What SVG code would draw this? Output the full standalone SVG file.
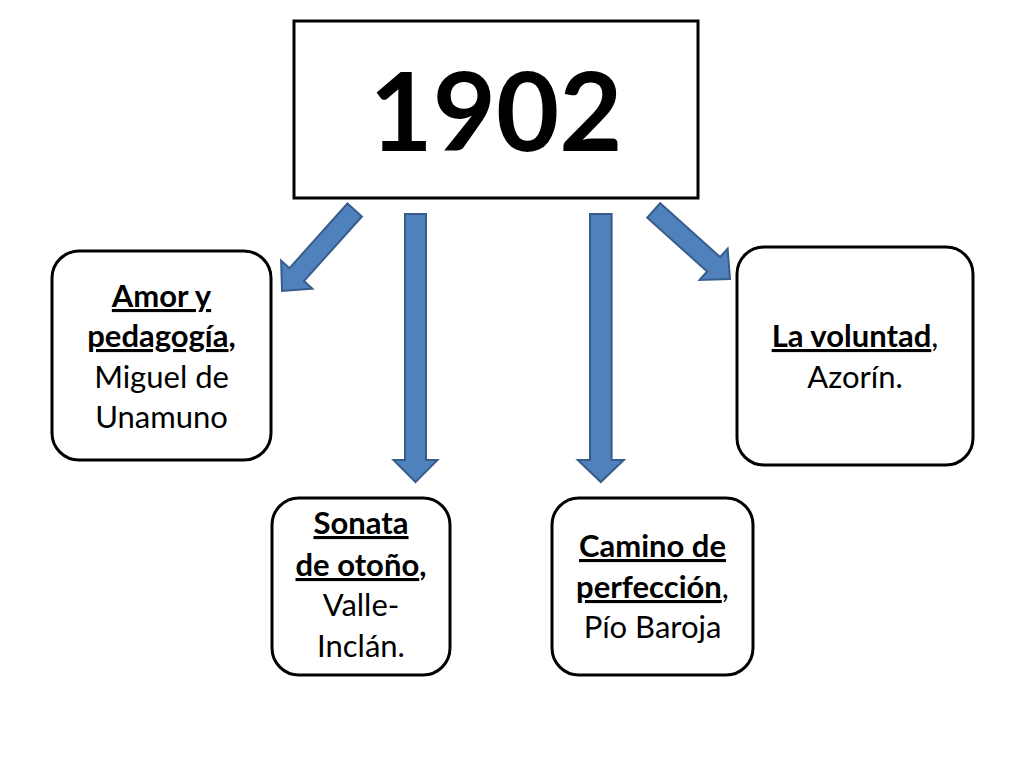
<svg xmlns="http://www.w3.org/2000/svg" width="1024" height="768" viewBox="0 0 1024 768">
<style>
.box{fill:#fff;stroke:#000;stroke-width:3}
.arr{fill:#4F81BD;stroke:#385D8A;stroke-width:2;stroke-linejoin:miter}
.t{font-family:Lato,"Liberation Sans",sans-serif;font-size:31px;fill:#000;text-anchor:middle}
.b{font-weight:bold}
.u{text-decoration:underline}
.big{font-family:Lato,"Liberation Sans",sans-serif;font-size:109px;font-weight:bold;fill:#000;text-anchor:middle}
</style>
<rect width="1024" height="768" fill="#fff"/>
<g id="connectors">
<path class="arr" transform="translate(354.7,210) rotate(41.9)" d="M-9.7,0 L9.7,0 L9.7,86.8 L21,86.8 L0,108.8 L-21,86.8 L-9.7,86.8 Z"/>
<path class="arr" transform="translate(415.5,214)" d="M-10.5,0 L10.5,0 L10.5,246 L22,246 L0,268 L-22,246 L-10.5,246 Z"/>
<path class="arr" transform="translate(600.8,214)" d="M-10.8,0 L10.8,0 L10.8,246 L23,246 L0,268 L-23,246 L-10.8,246 Z"/>
<path class="arr" transform="translate(653.7,210.5) rotate(-48.1)" d="M-9.7,0 L9.7,0 L9.7,80.5 L21,80.5 L0,102.5 L-21,80.5 L-9.7,80.5 Z"/>
</g>
<g id="n1902">
<rect class="box" x="294" y="21" width="404" height="177"/>
<text class="big" x="496" y="151">1902</text>
</g>
<g id="amor">
<rect class="box" x="52" y="251" width="219" height="209" rx="27"/>
<text class="t b" x="161.5" y="307"><tspan class="u">Amor y</tspan></text>
<text class="t b" x="161.5" y="347"><tspan class="u">pedagogía</tspan>,</text>
<text class="t" x="161.5" y="388">Miguel de</text>
<text class="t" x="161.5" y="428">Unamuno</text>
</g>
<g id="sonata">
<rect class="box" x="272" y="498" width="178" height="177" rx="27"/>
<text class="t b" x="361" y="534"><tspan class="u">Sonata</tspan></text>
<text class="t b" x="361" y="576"><tspan class="u">de otoño</tspan>,</text>
<text class="t" x="361" y="616">Valle-</text>
<text class="t" x="361" y="657">Inclán.</text>
</g>
<g id="camino">
<rect class="box" x="552" y="498" width="201" height="177" rx="27"/>
<text class="t b" x="652.5" y="557"><tspan class="u">Camino de</tspan></text>
<text class="t" x="652.5" y="598"><tspan class="b u">perfección</tspan>,</text>
<text class="t" x="652.5" y="638">Pío Baroja</text>
</g>
<g id="voluntad">
<rect class="box" x="737" y="247" width="236" height="218" rx="27"/>
<text class="t" x="855" y="347"><tspan class="b u">La voluntad</tspan>,</text>
<text class="t" x="855" y="388">Azorín.</text>
</g>
</svg>
